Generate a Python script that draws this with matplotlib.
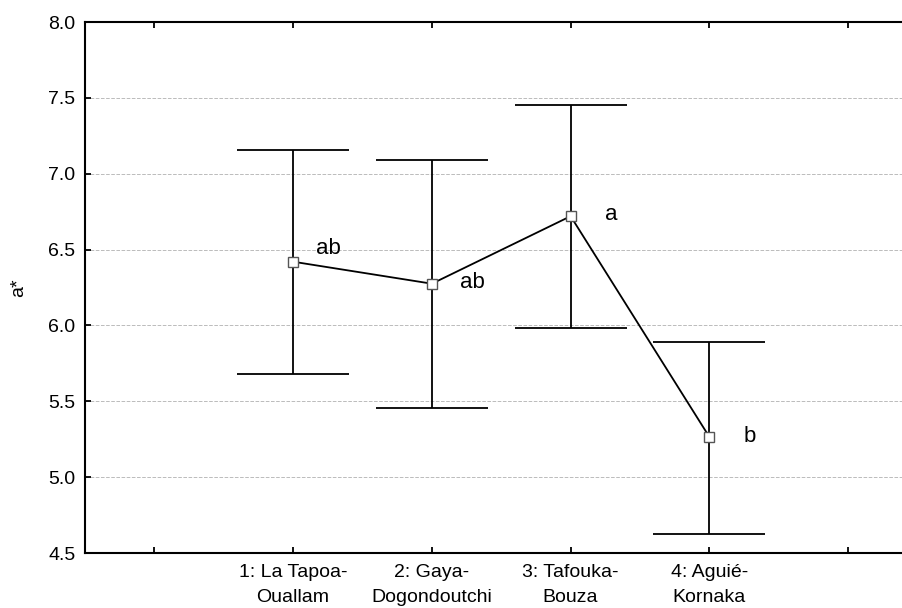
import numpy as np
import matplotlib.pyplot as plt

#%% data
groups = ['1: La Tapoa-\nOuallam', '2: Gaya-\nDogondoutchi', '3: Tafouka-\nBouza', '4: Aguié-\nKornaka']
means = [6.42, 6.275, 6.72, 5.265]
upper = [7.155, 7.09, 7.455, 5.89]
lower = [5.68, 5.455, 5.985, 4.625]
letters = ['ab', 'ab', 'a', 'b']
letter_y = [6.51, 6.28, 6.73, 5.27]
letter_dx = [0.165, 0.2, 0.25, 0.25]

#%% plot parameters
plt.rcParams['font.family'] = ['Liberation Sans', 'DejaVu Sans']

fig = plt.figure(figsize=[9.03, 6.08], dpi=100)
ax = fig.add_axes([85/903, 1-553/608, (917.5-85)/903, (553-22)/608])

x = np.arange(1, len(groups)+1)
means = np.array(means)
err = [means - np.array(lower), np.array(upper) - means]

ax.errorbar(x, means, yerr=err, fmt='none', ecolor='k', elinewidth=1.3,
            capsize=40, capthick=1.3, zorder=2)
ax.plot(x, means, '-', c='k', lw=1.3, zorder=3)
ax.plot(x, means, 's', ms=6.5, mfc='white', mec='#555555', mew=1, zorder=4)

for xi, yi, dx, t in zip(x, letter_y, letter_dx, letters):
    ax.text(xi + dx, yi, t, fontsize=16, va='center', ha='left')

ax.set_xlim(-0.5, 5.5)
ax.set_ylim(4.5, 8.0)
ax.set_xticks(range(0, 6))
ax.set_xticklabels([''] + groups + [''], linespacing=1.6)
ax.set_yticks(np.arange(4.5, 8.01, 0.5))
ax.set_yticklabels([f'{v:.1f}' for v in np.arange(4.5, 8.01, 0.5)])
ax.tick_params(direction='in', length=4, width=1.3, top=True, right=False,
               labelsize=14)
ax.tick_params(axis='x', pad=8)
ax.tick_params(axis='y', pad=7)
ax.yaxis.grid(True, ls='--', lw=0.7, color='#bbbbbb')
ax.set_axisbelow(True)
for s in ax.spines.values():
    s.set_linewidth(1.5)
ax.spines['right'].set_visible(False)
ax.set_ylabel('a*', fontsize=14, labelpad=15)

fig.savefig('out.png', dpi=100)
